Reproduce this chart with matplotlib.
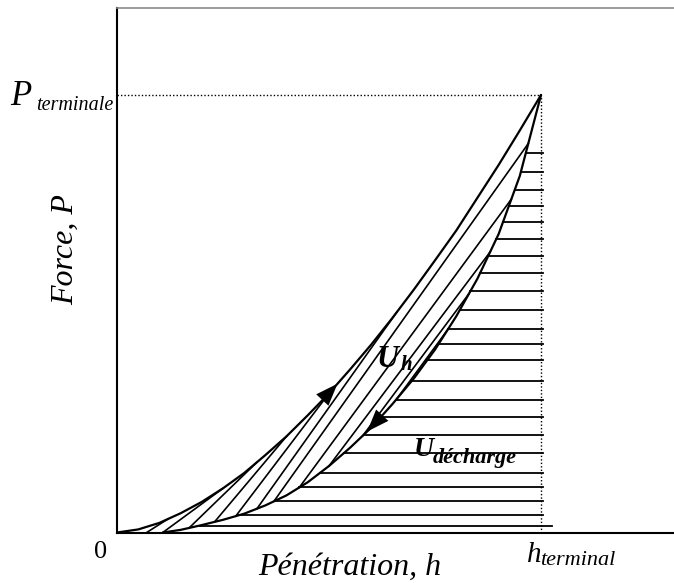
import numpy as np
import matplotlib.pyplot as plt

# --- Data (normalised: h / h_terminal, P / P_terminale) ---
load_h = [0.00, 0.05, 0.10, 0.15, 0.20, 0.25, 0.30, 0.35, 0.40, 0.45, 0.50,
          0.55, 0.60, 0.65, 0.70, 0.75, 0.80, 0.85, 0.90, 0.95, 1.00]
load_P = [0.000, 0.007, 0.022, 0.044, 0.070, 0.101, 0.136, 0.177, 0.220, 0.268, 0.318,
          0.373, 0.430, 0.491, 0.555, 0.622, 0.690, 0.765, 0.840, 0.919, 1.000]

unload_h = [0.108, 0.15, 0.20, 0.25, 0.30, 0.35, 0.40, 0.45, 0.50, 0.55,
            0.60, 0.65, 0.70, 0.75, 0.80, 0.85, 0.90, 0.95, 1.00]
unload_P = [0.000, 0.006, 0.017, 0.029, 0.043, 0.062, 0.085, 0.115, 0.152, 0.194,
            0.240, 0.294, 0.352, 0.418, 0.494, 0.580, 0.682, 0.815, 1.000]

# horizontal hatching under the unloading curve (U_decharge)
hline_P = [0.016, 0.039, 0.073, 0.103, 0.137, 0.181, 0.224, 0.263, 0.304, 0.346, 0.394,
           0.430, 0.465, 0.508, 0.551, 0.593, 0.632, 0.670, 0.709, 0.746, 0.783, 0.824, 0.867]

# diagonal hatching between the curves (U_h): start on unloading, end on a curve
hatch_start = [0.07, 0.108, 0.17, 0.23, 0.28, 0.33, 0.37, 0.43, 0.50, 0.58, 0.66]
hatch_end   = [0.12, 0.25, 0.33, 0.40, 0.50, 0.66, 0.97, 0.93, 0.88, 0.83, 0.78]
hatch_on    = ["L", "L", "L", "L", "L", "L", "U", "U", "U", "U", "U"]

W, H = 674, 583
plt.rcParams["font.family"] = ["Liberation Serif", "DejaVu Serif"]

def loadP(h):
    return np.interp(h, load_h, load_P)

def unloadP(h):
    return np.interp(h, unload_h, unload_P)

def fx(x):
    return x / W

def fy(y):
    return 1 - y / H

fig = plt.figure(figsize=(W / 100, H / 100), dpi=100)
ax = fig.add_axes([117 / W, 50.5 / H, 572.4 / W, 525 / H])
ax.set_xlim(0, 1.35)
ax.set_ylim(0, 1.2)
ax.set_xticks([])
ax.set_yticks([])
ax.spines["right"].set_visible(False)
ax.spines["left"].set_linewidth(1.5)
ax.spines["bottom"].set_linewidth(1.5)
ax.spines["top"].set_linewidth(1.2)
ax.spines["top"].set_color("#8a8a8a")

# curves
ax.plot(load_h, load_P, color="k", lw=1.6, solid_capstyle="round")
ax.plot(unload_h, unload_P, color="k", lw=1.6, solid_capstyle="round")

# horizontal hatching
for i, p in enumerate(hline_P):
    x0 = np.interp(p, unload_P, unload_h)
    x1 = 1.025 if i == 0 else 1.004
    ax.plot([x0, x1], [p, p], color="k", lw=1.3)

# diagonal hatching
for h0, h1, on in zip(hatch_start, hatch_end, hatch_on):
    p1 = loadP(h1) if on == "L" else unloadP(h1)
    ax.plot([h0, h1], [unloadP(h0), p1], color="k", lw=1.2)

# dotted guides at the terminal point
ax.plot([0, 1], [1, 1], color="k", lw=1, ls=(0, (1, 1.5)))
ax.plot([1, 1], [0, 1], color="k", lw=1, ls=(0, (1, 1.5)))

# direction arrows
arrow = dict(arrowstyle="-|>,head_length=0.8,head_width=0.3", mutation_scale=20,
             color="k", lw=0, shrinkA=0, shrinkB=0)
ax.annotate("", xy=(0.52, loadP(0.52)), xytext=(0.47, loadP(0.47)), arrowprops=arrow)
ax.annotate("", xy=(0.59, unloadP(0.59)), xytext=(0.64, unloadP(0.64)), arrowprops=arrow)

# labels
fig.text(fx(101), fy(558), "0", fontsize=19, ha="center", va="baseline")
fig.text(fx(350), fy(575), "Pénétration, h", fontsize=23, style="italic",
         ha="center", va="baseline")
fig.text(fx(80), fy(250), "Force, P", fontsize=23, style="italic", rotation=90,
         ha="right", va="center")
fig.text(fx(10), fy(105), "P", fontsize=25, style="italic", ha="left", va="baseline")
fig.text(fx(36), fy(110), "terminale", fontsize=14.5, style="italic", ha="left", va="baseline")
fig.text(fx(527), fy(562), "h", fontsize=21, style="italic", ha="left", va="baseline")
fig.text(fx(540), fy(565), "terminal", fontsize=16, style="italic", ha="left", va="baseline")
fig.text(fx(377), fy(367), "U", fontsize=22, style="italic", weight="bold",
         ha="left", va="baseline")
fig.text(fx(401), fy(370), "h", fontsize=15, style="italic", weight="bold",
         ha="left", va="baseline")
fig.text(fx(414), fy(456), "U", fontsize=20, style="italic", weight="bold",
         ha="left", va="baseline")
fig.text(fx(433), fy(463), "décharge", fontsize=16, style="italic", weight="bold",
         ha="left", va="baseline")

fig.savefig("out.png", dpi=100)
